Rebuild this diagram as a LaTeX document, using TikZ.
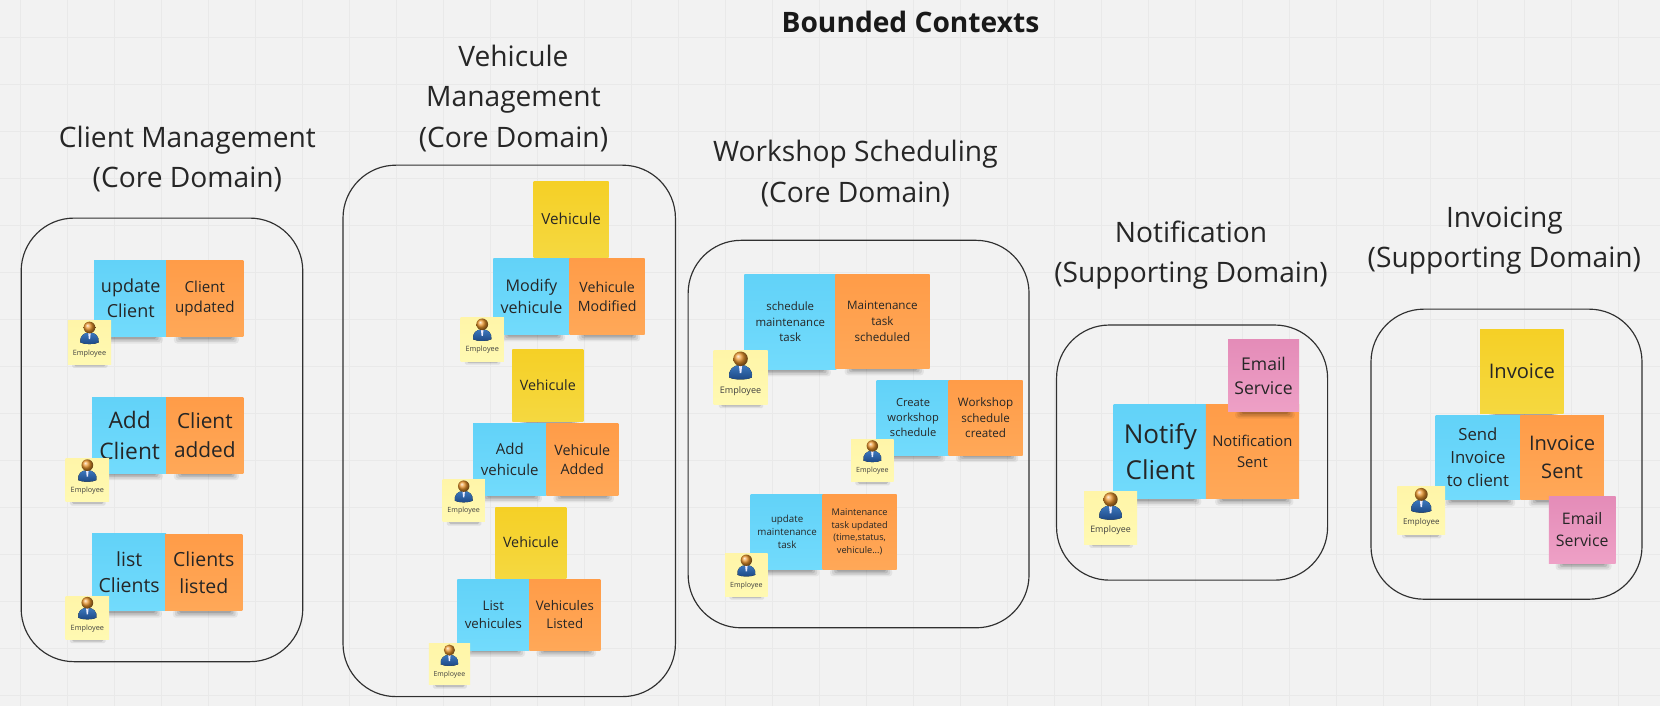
\documentclass[tikz,border=0pt]{standalone}
\usepackage{fontspec}
\setmainfont{Open Sans}
\definecolor{bgc}{HTML}{F2F2F2}
\definecolor{gridc}{HTML}{E9E9E9}
\definecolor{inkc}{HTML}{262626}
\definecolor{frame}{HTML}{303030}
\tikzset{
  ctxbox/.style={draw=frame,line width=1.1pt,fill=none,rounded corners=50pt},
  heading/.style={text=inkc,align=center,inner sep=0pt,font=\fontsize{26.6}{38}\selectfont},
  notebase/.style={inner sep=0pt,text=inkc,align=center},
  bluenote/.style={notebase,top color={rgb,255:red,98;green,210;blue,248},bottom color={rgb,255:red,114;green,219;blue,252}},
  orangenote/.style={notebase,top color={rgb,255:red,255;green,156;blue,72},bottom color={rgb,255:red,255;green,168;blue,88}},
  yellownote/.style={notebase,top color={rgb,255:red,245;green,208;blue,38},bottom color={rgb,255:red,245;green,216;blue,64}},
  pinknote/.style={notebase,top color={rgb,255:red,228;green,140;blue,184},bottom color={rgb,255:red,238;green,160;blue,198}},
  paler/.style={notebase,top color={rgb,255:red,255;green,245;blue,168},bottom color={rgb,255:red,255;green,249;blue,178}},
}
% name, style, x1, y1, x2, y2, font size, text
\newcommand{\stickynote}[8]{%
  \pgfmathsetmacro{\nw}{#5-#3}\pgfmathsetmacro{\nh}{#6-#4}%
  \pgfmathsetmacro{\ls}{#7*1.37}\pgfmathsetmacro{\sa}{#3+0.10*\nw}\pgfmathsetmacro{\sb}{#5-0.06*\nw}%
  \fill[black,opacity=.06,rounded corners=3pt] (\sa,#6-1) rectangle (\sb,#6+6.5);
  \fill[black,opacity=.08,rounded corners=2pt] (\sa+2,#6-1) rectangle (\sb-2,#6+5);
  \fill[black,opacity=.10,rounded corners=2pt] (\sa+4,#6-1) rectangle (\sb-4,#6+3.5);
  \fill[black,opacity=.12,rounded corners=1.5pt] (\sa+6,#6-1) rectangle (\sb-6,#6+2);
  \node[#2,minimum width=\nw pt,minimum height=\nh pt,font=\fontsize{#7}{\ls}\selectfont] (#1) at ({(#3+#5)/2},{(#4+#6)/2}) {#8};
}
% name, x1, y1, width
\newcommand{\employee}[4]{%
  \pgfmathsetmacro{\ew}{#4}\pgfmathsetmacro{\efs}{\ew*0.168}\pgfmathsetmacro{\sa}{#2+0.1*\ew}\pgfmathsetmacro{\sb}{#2+0.92*\ew}%
  \fill[black,opacity=.08,rounded corners=1.5pt] (\sa,#3+\ew-1) rectangle (\sb,#3+\ew+3.5);
  \fill[black,opacity=.14,rounded corners=1.5pt] (\sa+2,#3+\ew-1) rectangle (\sb-2,#3+\ew+2);
  \node[paler,minimum width=\ew pt,minimum height=\ew pt] (#1) at ({#2+\ew/2},{#3+\ew/2}) {};
  \begin{scope}[shift={(#2,#3)},x=\ew pt,y=-\ew pt]
    \fill[top color={rgb,255:red,60;green,120;blue,190},bottom color={rgb,255:red,28;green,70;blue,130}]
      (.29,.50) .. controls (.27,.36) and (.36,.27) .. (.5,.27)
      .. controls (.64,.27) and (.73,.36) .. (.71,.50)
      .. controls (.62,.55) and (.38,.55) .. (.29,.50) -- cycle;
    \fill[white!92!blue] (.47,.27) -- (.53,.27) -- (.515,.42) -- (.485,.42) -- cycle;
    \shade[ball color={rgb,255:red,235;green,150;blue,45}] (.5,.155) circle (.135);
    \node[inner sep=0pt,text=black!75,font=\fontsize{\efs}{\efs}\selectfont] at (.5,.745) {Employee};
  \end{scope}
}
\begin{document}
\begin{tikzpicture}[x=1pt,y=-1pt]
\useasboundingbox (0,0) rectangle (1568,667);
\fill[bgc] (0,0) rectangle (1568,667);
\foreach \gx in {0,...,35} \draw[gridc,line width=.8pt] ({19+44.4*\gx},0) -- ({19+44.4*\gx},667);
\foreach \gy in {0,...,14} \draw[gridc,line width=.8pt] (0,{35+44.4*\gy}) -- (1568,{35+44.4*\gy});

\node[text=black!90,inner sep=0pt,font=\fontsize{26.6}{30}\selectfont\bfseries] (title) at (860,21) {Bounded Contexts};

% Client Management
\node[heading] (h1) at (177,150) {Client Management\\(Core Domain)};
\draw[ctxbox] (20,206) rectangle (286,625);
\stickynote{c1}{bluenote}{89}{246}{158}{318}{17}{update\\Client}
\stickynote{c2}{orangenote}{157}{246}{230}{318}{14.3}{Client\\updated}
\employee{e1}{64}{303}{41}
\stickynote{c3}{bluenote}{87}{375}{158}{447}{21.5}{Add\\Client}
\stickynote{c4}{orangenote}{157}{375}{230}{447}{19.7}{Client\\added}
\employee{e2}{62}{433}{41}
\stickynote{c5}{bluenote}{87}{504}{157}{577}{18.4}{list\\Clients}
\stickynote{c6}{orangenote}{156}{505}{229}{577}{18.4}{Clients\\listed}
\employee{e3}{62}{563}{41}

% Vehicle Management
\node[heading] (h2) at (485,93) {Vehicule\\Management\\(Core Domain)};
\draw[ctxbox] (324,156) rectangle (638,658);
\stickynote{v1}{yellownote}{504}{171}{575}{243}{14.4}{Vehicule}
\stickynote{v2}{bluenote}{466}{244}{538}{316}{15.2}{Modify\\vehicule}
\stickynote{v3}{orangenote}{538}{244}{609}{316}{13.4}{Vehicule\\Modified}
\employee{e4}{435}{300}{41}
\stickynote{v4}{yellownote}{484}{330}{551}{398}{13.5}{Vehicule}
\stickynote{v5}{bluenote}{447}{400}{516}{468}{14.2}{Add\\vehicule}
\stickynote{v6}{orangenote}{516}{400}{584}{468}{13.5}{Vehicule\\Added}
\employee{e5}{418}{453}{40}
\stickynote{v7}{yellownote}{468}{479}{535}{546}{13.5}{Vehicule}
\stickynote{v8}{bluenote}{432}{547}{500}{614}{12.5}{List\\vehicules}
\stickynote{v9}{orangenote}{500}{547}{567}{614}{12.5}{Vehicules\\Listed}
\employee{e6}{405}{608}{39}

% Workshop Scheduling
\node[heading] (h3) at (808,164) {Workshop Scheduling\\(Core Domain)};
\draw[ctxbox] (650,227) rectangle (972,593);
\stickynote{w1}{bluenote}{703}{259}{790}{349}{10.8}{schedule\\maintenance\\task}
\stickynote{w2}{orangenote}{789}{259}{878}{348}{11}{Maintenance\\task\\scheduled}
\employee{e7}{674}{331}{51}
\stickynote{w3}{bluenote}{828}{359}{897}{430}{10.5}{Create\\workshop\\schedule}
\stickynote{w4}{orangenote}{896}{359}{966}{430}{11}{Workshop\\schedule\\created}
\employee{e8}{804}{415}{40}
\stickynote{w5}{bluenote}{709}{467}{778}{538}{9.2}{update\\maintenance\\task}
\stickynote{w6}{orangenote}{777}{467}{847}{538}{8.7}{Maintenance\\task updated\\(time,status,\\vehicule...)}
\employee{e9}{685}{523}{40}

% Notification
\node[heading] (h4) at (1125,241) {Notification\\(Supporting Domain)};
\draw[ctxbox] (998,307) rectangle (1254,548);
\stickynote{n1}{bluenote}{1052}{382}{1140}{471}{24.6}{Notify\\Client}
\stickynote{n2}{orangenote}{1139}{382}{1227}{471}{14}{Notification\\Sent}
\stickynote{n3}{pinknote}{1160}{321}{1227}{389}{16.6}{Email\\Service}
\employee{e10}{1024}{464}{50}

% Invoicing
\node[heading] (h5) at (1421,227) {Invoicing\\(Supporting Domain)};
\draw[ctxbox] (1295,292) rectangle (1551,566);
\stickynote{i1}{yellownote}{1398}{311}{1477}{391}{19}{Invoice}
\stickynote{i2}{bluenote}{1356}{392}{1436}{472}{15.8}{Send\\Invoice\\to client}
\stickynote{i3}{orangenote}{1436}{392}{1515}{472}{19}{Invoice\\Sent}
\stickynote{i4}{pinknote}{1463}{469}{1526}{532}{15}{Email\\Service}
\employee{e11}{1320}{460}{45}
\end{tikzpicture}
\end{document}
